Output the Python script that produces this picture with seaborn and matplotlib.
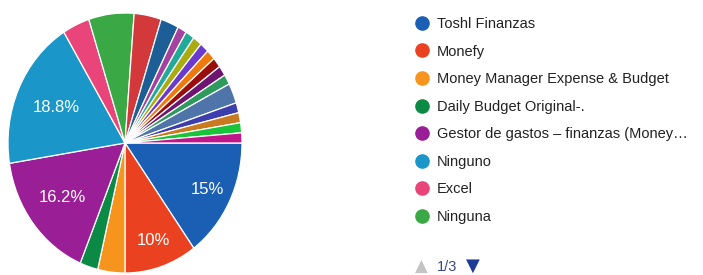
import numpy as np
import seaborn as sns
import matplotlib
matplotlib.use("Agg")
import matplotlib.pyplot as plt
from matplotlib.lines import Line2D

sns.set_theme(style="white")
plt.rcParams['font.family'] = ['Liberation Sans', 'DejaVu Sans']

# responses per option (160 in total), in pie order
counts = [24, 16, 6, 4, 26, 30, 6, 10, 6, 4,
          2, 2, 2, 2, 2, 2, 2, 2, 4, 2, 2, 2, 2]
colors = ["#1b5fb4", "#ea4220", "#f7941d", "#0b8a46", "#9a1f96",
          "#1a96c9", "#e9457a", "#3aa845", "#d3393a", "#1d5e96",
          "#a4439f", "#22aa99", "#aaaa11", "#6a3acc", "#ee7a0c",
          "#9b0d0d", "#6f1470", "#2f9a5e", "#4f74aa", "#3b3eac",
          "#c9791f", "#19c33a", "#c0168a"]
# first page of the legend (1/3)
legend_labels = ["Toshl Finanzas", "Monefy", "Money Manager Expense & Budget",
                 "Daily Budget Original-.", "Gestor de gastos \u2013 finanzas (Money\u2026",
                 "Ninguno", "Excel", "Ninguna"]

W, H = 703, 275
fig = plt.figure(figsize=(W / 100, H / 100), dpi=100)

# pie area (slightly taller than wide, as in the source)
cx, cy, rx, ry = 125, 143, 117, 130
ax = fig.add_axes([(cx - rx) / W, (H - cy - ry) / H, 2 * rx / W, 2 * ry / H])


def fmt(pct):
    # only the big slices get a label, "15%" not "15.0%"
    if pct < 9.9:
        return ""
    s = f"{pct:.1f}"
    if s.endswith(".0"):
        s = s[:-2]
    return s + "%"


wedges, texts, autotexts = ax.pie(
    counts, colors=colors, startangle=0, counterclock=False,
    autopct=fmt, pctdistance=0.72,
    wedgeprops=dict(edgecolor="white", linewidth=0.9),
    textprops=dict(color="white", fontsize=12))

# nudge percentage labels to where the source puts them
dist = {0: 0.79, 1: 0.79, 4: 0.68, 5: 0.65}
for i, t in enumerate(autotexts):
    if i in dist:
        th = np.deg2rad((wedges[i].theta1 + wedges[i].theta2) / 2)
        t.set_position((dist[i] * np.cos(th), dist[i] * np.sin(th)))

ax.set_aspect("auto")
ax.set_xlim(-1, 1)
ax.set_ylim(-1, 1)
ax.axis("off")

handles = [Line2D([], [], marker="o", linestyle="", markersize=9.5,
                  markerfacecolor=c, markeredgecolor=c)
           for c in colors[:len(legend_labels)]]
fig.legend(handles, legend_labels, loc="upper left",
           bbox_to_anchor=(415 / W, 1 - 17 / H), frameon=False,
           fontsize=10.5, labelcolor="#222222", handlelength=1.0,
           handletextpad=0.5, labelspacing=0.93, borderpad=0, borderaxespad=0)

# pagination
fig.text(421 / W, 1 - 267 / H, "\u25b2", color="#c4c4c4", fontsize=12,
         ha="center", va="center", family="DejaVu Sans")
fig.text(437 / W, 1 - 267 / H, "1/3", color="#3b4a86", fontsize=10.5,
         ha="left", va="center")
fig.text(473 / W, 1 - 266 / H, "\u25bc", color="#1c3c9a", fontsize=13,
         ha="center", va="center", family="DejaVu Sans")

fig.savefig("out.png", dpi=100)
